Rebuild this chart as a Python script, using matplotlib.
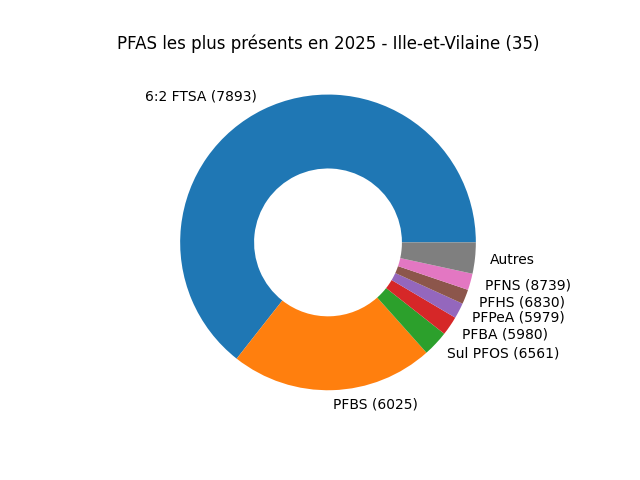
import matplotlib
matplotlib.use("Agg")
import matplotlib.pyplot as plt

labels = ["6:2 FTSA (7893)", "PFBS (6025)", "Sul PFOS (6561)", "PFBA (5980)",
          "PFPeA (5979)", "PFHS (6830)", "PFNS (8739)", "Autres"]
values = [64.4, 22.2, 2.8, 2.1, 1.7, 1.6, 1.8, 3.4]

fig, ax = plt.subplots(figsize=(6.4, 4.8), dpi=100)
ax.pie(values, labels=labels, wedgeprops={'width': 0.5})
ax.set_title("PFAS les plus présents en 2025 - Ille-et-Vilaine (35)")
fig.savefig("out.png")
